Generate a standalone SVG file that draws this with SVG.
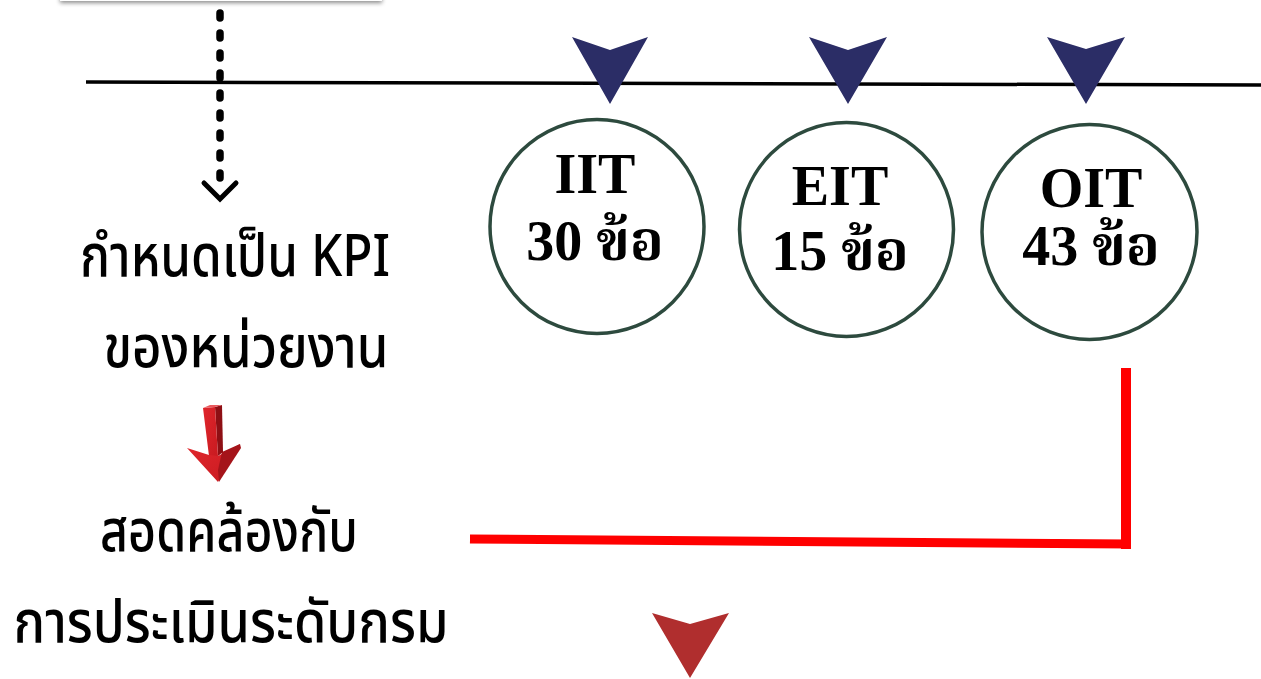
<svg xmlns="http://www.w3.org/2000/svg" width="1261" height="679" viewBox="0 0 1261 679">
  <style>
    .lbl { font-family: "Noto Sans", "Noto Sans Thai", "DejaVu Sans", sans-serif; font-size: 58px; font-weight: 500; fill: #000; text-anchor: middle; }
    .ct { font-family: "Liberation Serif", "Noto Serif Thai", "DejaVu Serif", serif; font-size: 56px; font-weight: bold; fill: #000; text-anchor: middle; }
    .circ { fill: #fff; stroke: #2d4a3e; stroke-width: 3.5; }
    .navy { fill: #2b2d66; }
  </style>
  <defs>
    <filter id="shadow" x="-10%" y="-50%" width="120%" height="200%">
      <feDropShadow dx="0" dy="2" stdDeviation="2" flood-color="#000" flood-opacity="0.45"/>
    </filter>
    <linearGradient id="redg" x1="0" y1="0" x2="1" y2="1">
      <stop offset="0" stop-color="#e0262c"/>
      <stop offset="1" stop-color="#c81a20"/>
    </linearGradient>
  </defs>
  <rect width="1261" height="679" fill="#fff"/>

  <g id="top-box">
    <rect x="60" y="-40" width="322" height="41" fill="#fff" filter="url(#shadow)"/>
  </g>

  <g id="connectors">
    <line x1="86" y1="82" x2="1261" y2="85" stroke="#000" stroke-width="3.5"/>
    <line x1="220" y1="13" x2="220" y2="180" stroke="#000" stroke-width="7.5" stroke-linecap="round" stroke-dasharray="5 15"/>
    <polyline points="204,183 220,199 236,183" fill="none" stroke="#000" stroke-width="5" stroke-linecap="round" stroke-linejoin="miter"/>
    <line x1="470" y1="539" x2="1131" y2="544" stroke="#ff0000" stroke-width="9"/>
    <line x1="1126" y1="368" x2="1126" y2="549" stroke="#ff0000" stroke-width="10"/>
  </g>

  <g id="arrow-iit">
    <polygon class="navy" points="572,37 610,50 648,37 610,104"/>
  </g>
  <g id="arrow-eit">
    <polygon class="navy" points="809,37 848,50 887,37 848,104"/>
  </g>
  <g id="arrow-oit">
    <polygon class="navy" points="1047,37 1086,49 1125,37 1086,104"/>
  </g>

  <g id="node-iit">
    <circle class="circ" cx="597" cy="226.5" r="107"/>
    <text class="ct" x="595" y="193">IIT</text>
    <text class="ct" x="595" y="260">30 ข้อ</text>
  </g>
  <g id="node-eit">
    <circle class="circ" cx="846.5" cy="229.5" r="107"/>
    <text class="ct" x="840" y="205">EIT</text>
    <text class="ct" x="840" y="270">15 ข้อ</text>
  </g>
  <g id="node-oit">
    <circle class="circ" cx="1089.5" cy="232" r="107.5"/>
    <text class="ct" x="1091" y="207">OIT</text>
    <text class="ct" x="1091" y="265">43 ข้อ</text>
  </g>

  <g id="label-kpi">
    <text class="lbl" x="235" y="276" textLength="310" lengthAdjust="spacingAndGlyphs">กำหนดเป็น KPI</text>
    <text class="lbl" x="246" y="367" textLength="285" lengthAdjust="spacingAndGlyphs">ของหน่วยงาน</text>
  </g>

  <g id="red-3d-arrow">
    <polygon points="215,407 222,405 223,452 218,456" fill="#8e0f14"/>
    <polygon points="203,408 215,407 218,456 209,456" fill="url(#redg)"/>
    <polygon points="203,408 215,407 222,405 210,405" fill="#e85a5e"/>
    <polygon points="187,448 209,455 218,456 240,444 218,482" fill="url(#redg)"/>
    <polygon points="222,452 240,444 241,448 219,482 218,470" fill="#a5141a"/>
  </g>

  <g id="label-align">
    <text class="lbl" x="229" y="551" textLength="258" lengthAdjust="spacingAndGlyphs">สอดคล้องกับ</text>
    <text class="lbl" x="231" y="642" textLength="435" lengthAdjust="spacingAndGlyphs">การประเมินระดับกรม</text>
  </g>

  <g id="arrow-bottom">
    <polygon points="652,613 690,624 729,613 690,678" fill="#b02e2e"/>
  </g>
</svg>
